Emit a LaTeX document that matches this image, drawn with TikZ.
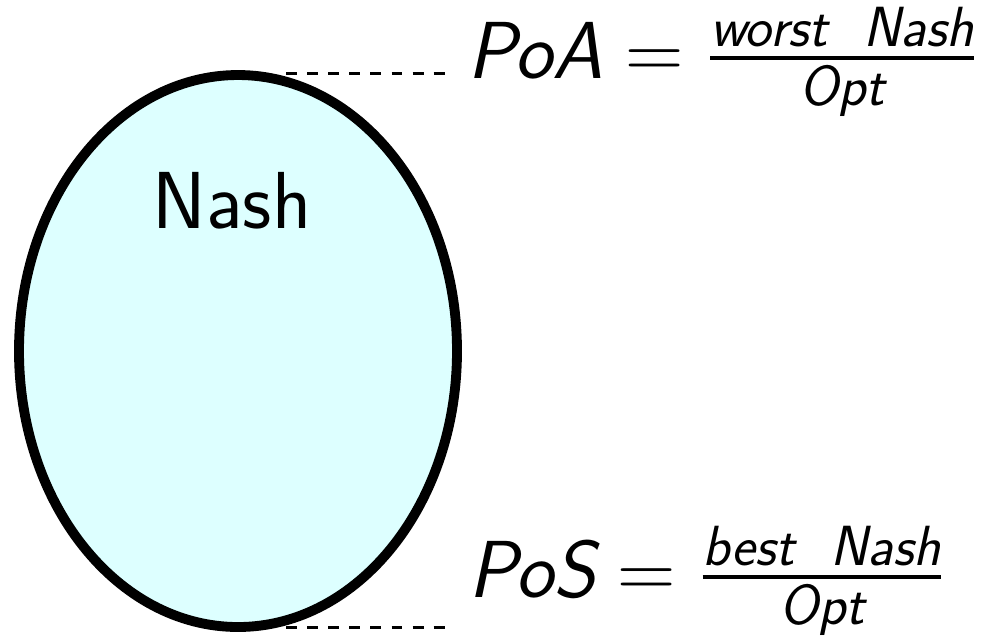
\RequirePackage{fix-cm}
\documentclass[tikz,border=0pt]{standalone}
\usepackage{amsmath}
\usepackage{fontspec}
\usepackage{tikz}
\definecolor{NashCyan}{HTML}{DDFFFF}
\newcommand{\sfit}[1]{\text{\sffamily\itshape #1}}

\begin{document}
\begin{tikzpicture}[x=0.01cm,y=-0.01cm,
  setline/.style={line width=2.8pt,draw=black,fill=NashCyan},
  levelline/.style={line width=0.85pt,dash pattern=on 3.1pt off 2.9pt},
  ratio/.style={anchor=base west,inner sep=0pt,font=\fontsize{23}{28}\selectfont}]
  \useasboundingbox (0,0) rectangle (987,635);
  % the set of equilibria
  \draw[setline] (238,351) ellipse (219 and 276);
  \node[anchor=base,inner sep=0pt,font=\sffamily\fontsize{23}{28}\selectfont] (nashlabel) at (232,228) {Nash};
  % worst and best equilibrium levels
  \coordinate (worstA) at (286,73);
  \coordinate (worstB) at (447,73);
  \coordinate (bestA) at (286,627);
  \coordinate (bestB) at (447,627);
  \draw[levelline] (worstA) -- (worstB);
  \draw[levelline] (bestA) -- (bestB);
  \node[ratio] (poa) at (467,78) {$\sfit{PoA} = \frac{\sfit{worst\ \ Nash}}{\sfit{Opt}}$};
  \node[ratio] (pos) at (468,597) {$\sfit{PoS} = \frac{\sfit{best\ \ Nash}}{\sfit{Opt}}$};
\end{tikzpicture}
\end{document}
